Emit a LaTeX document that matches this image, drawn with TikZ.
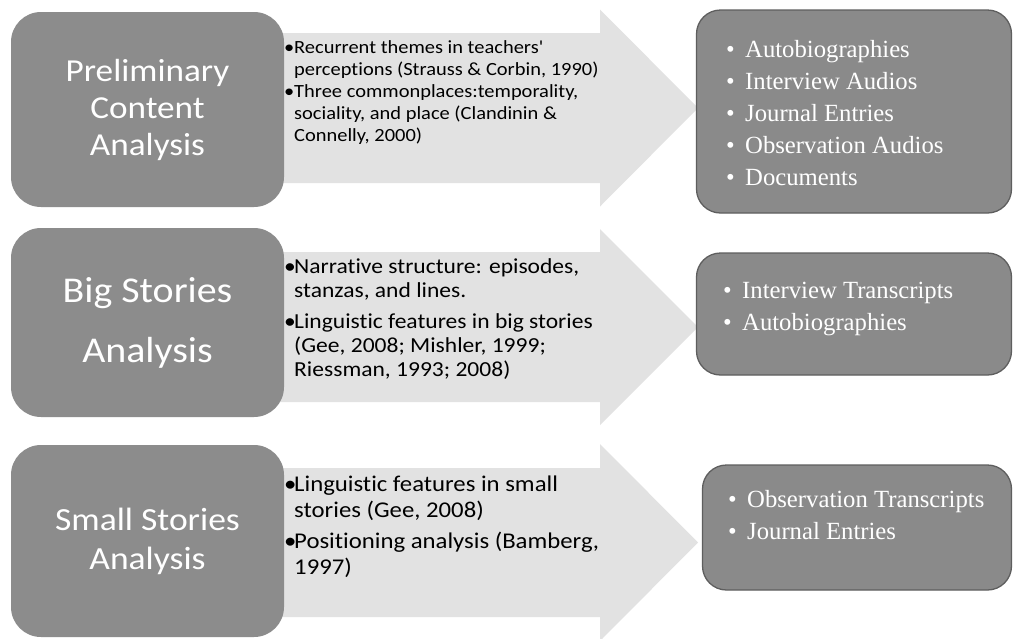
\documentclass[tikz,border=0pt]{standalone}
\usepackage{fontspec}
\setmainfont{Carlito}
\newfontfamily\calfont[FakeStretch=1.1,Ligatures=NoCommon,Contextuals=NoAlternate]{Carlito}
\newfontfamily\serfont{Liberation Serif}
\definecolor{stagegray}{HTML}{8C8C8C}
\definecolor{srcgray}{HTML}{8A8A8A}
\definecolor{srcline}{HTML}{5E5E5E}
\definecolor{arrowgray}{HTML}{E2E2E2}
\newcommand{\abul}{\makebox[10pt][l]{•}}
\newcommand{\aind}{\hspace*{10pt}}
\newcommand{\sbul}{\makebox[19pt][l]{•}}
\begin{document}
\begin{tikzpicture}[x=1pt,y=-1pt,
  stage/.style={fill=stagegray, draw=none, rounded corners=30pt, inner sep=0pt,
    text=white, align=center},
  source/.style={fill=srcgray, draw=srcline, line width=1.3pt, rounded corners=24pt, inner sep=0pt},
  flow/.style={fill=arrowgray},
  % multi-line texts are placed by the baseline of their last line
  flowtext/.style={anchor=base west, inner sep=0pt, align=left, text=black},
  srctext/.style={anchor=base west, inner sep=0pt, align=left, text=white,
    font=\serfont\fontsize{24.7}{32}\selectfont}]
\useasboundingbox (0,0) rectangle (1013,638);
\fill[white] (0,0) rectangle (1013,638);

% broad arrows behind the stage boxes
\fill[flow] (270,33) -- (600,33) -- (600,9.5) -- (698,108) -- (600,206.5) -- (600,183) -- (270,183) -- cycle;
\fill[flow] (270,252) -- (600,252) -- (600,229) -- (698,327) -- (600,425) -- (600,402) -- (270,402) -- cycle;
\fill[flow] (270,468) -- (600,468) -- (600,444) -- (698,542.5) -- (600,641) -- (600,617) -- (270,617) -- cycle;

% analysis stages
\node[stage, minimum width=273pt, minimum height=195pt,
  font=\calfont\fontsize{32}{37}\selectfont] (prelim) at (147.5,109.5)
  {Preliminary\\Content\\Analysis};
\node[stage, minimum width=273pt, minimum height=189pt,
  font=\calfont\fontsize{36.3}{60}\selectfont] (big) at (147.5,322.5)
  {Big Stories\\Analysis};
\node[stage, minimum width=273pt, minimum height=192pt,
  font=\calfont\fontsize{32.3}{39}\selectfont] (small) at (147.5,541)
  {Small Stories\\Analysis};

% methods written on the arrows
\node[flowtext, font=\calfont\fontsize{18.6}{21.7}\selectfont] (m1) at (284,141.1)
  {\abul Recurrent themes in teachers'\\\aind perceptions (Strauss \& Corbin, 1990)\\[1pt]
   \abul Three commonplaces:temporality,\\\aind sociality, and place (Clandinin \&\\\aind Connelly, 2000)};
\node[flowtext, font=\calfont\fontsize{21.4}{24}\selectfont] (m2) at (284,376.3)
  {\abul Narrative structure: episodes,\\\aind stanzas, and lines.\\[7pt]
   \abul Linguistic features in big stories\\\aind (Gee, 2008; Mishler, 1999;\\\aind Riessman, 1993; 2008)};
\node[flowtext, font=\calfont\fontsize{22.5}{25.5}\selectfont] (m3) at (284,574.2)
  {\abul Linguistic features in small\\\aind stories (Gee, 2008)\\[6pt]
   \abul Positioning analysis (Bamberg,\\\aind 1997)};

% data sources
\node[source, minimum width=315pt, minimum height=203pt] (src1) at (854,111.5) {};
\node[source, minimum width=315pt, minimum height=122pt] (src2) at (854,314) {};
\node[source, minimum width=309pt, minimum height=125pt] (src3) at (857,527.5) {};

\node[srctext] (d1) at (726,185)
  {\sbul Autobiographies\\\sbul Interview Audios\\\sbul Journal Entries\\\sbul Observation Audios\\\sbul Documents};
\node[srctext] (d2) at (723,330)
  {\sbul Interview Transcripts\\\sbul Autobiographies};
\node[srctext] (d3) at (728,539)
  {\sbul Observation Transcripts\\\sbul Journal Entries};
\end{tikzpicture}
\end{document}
